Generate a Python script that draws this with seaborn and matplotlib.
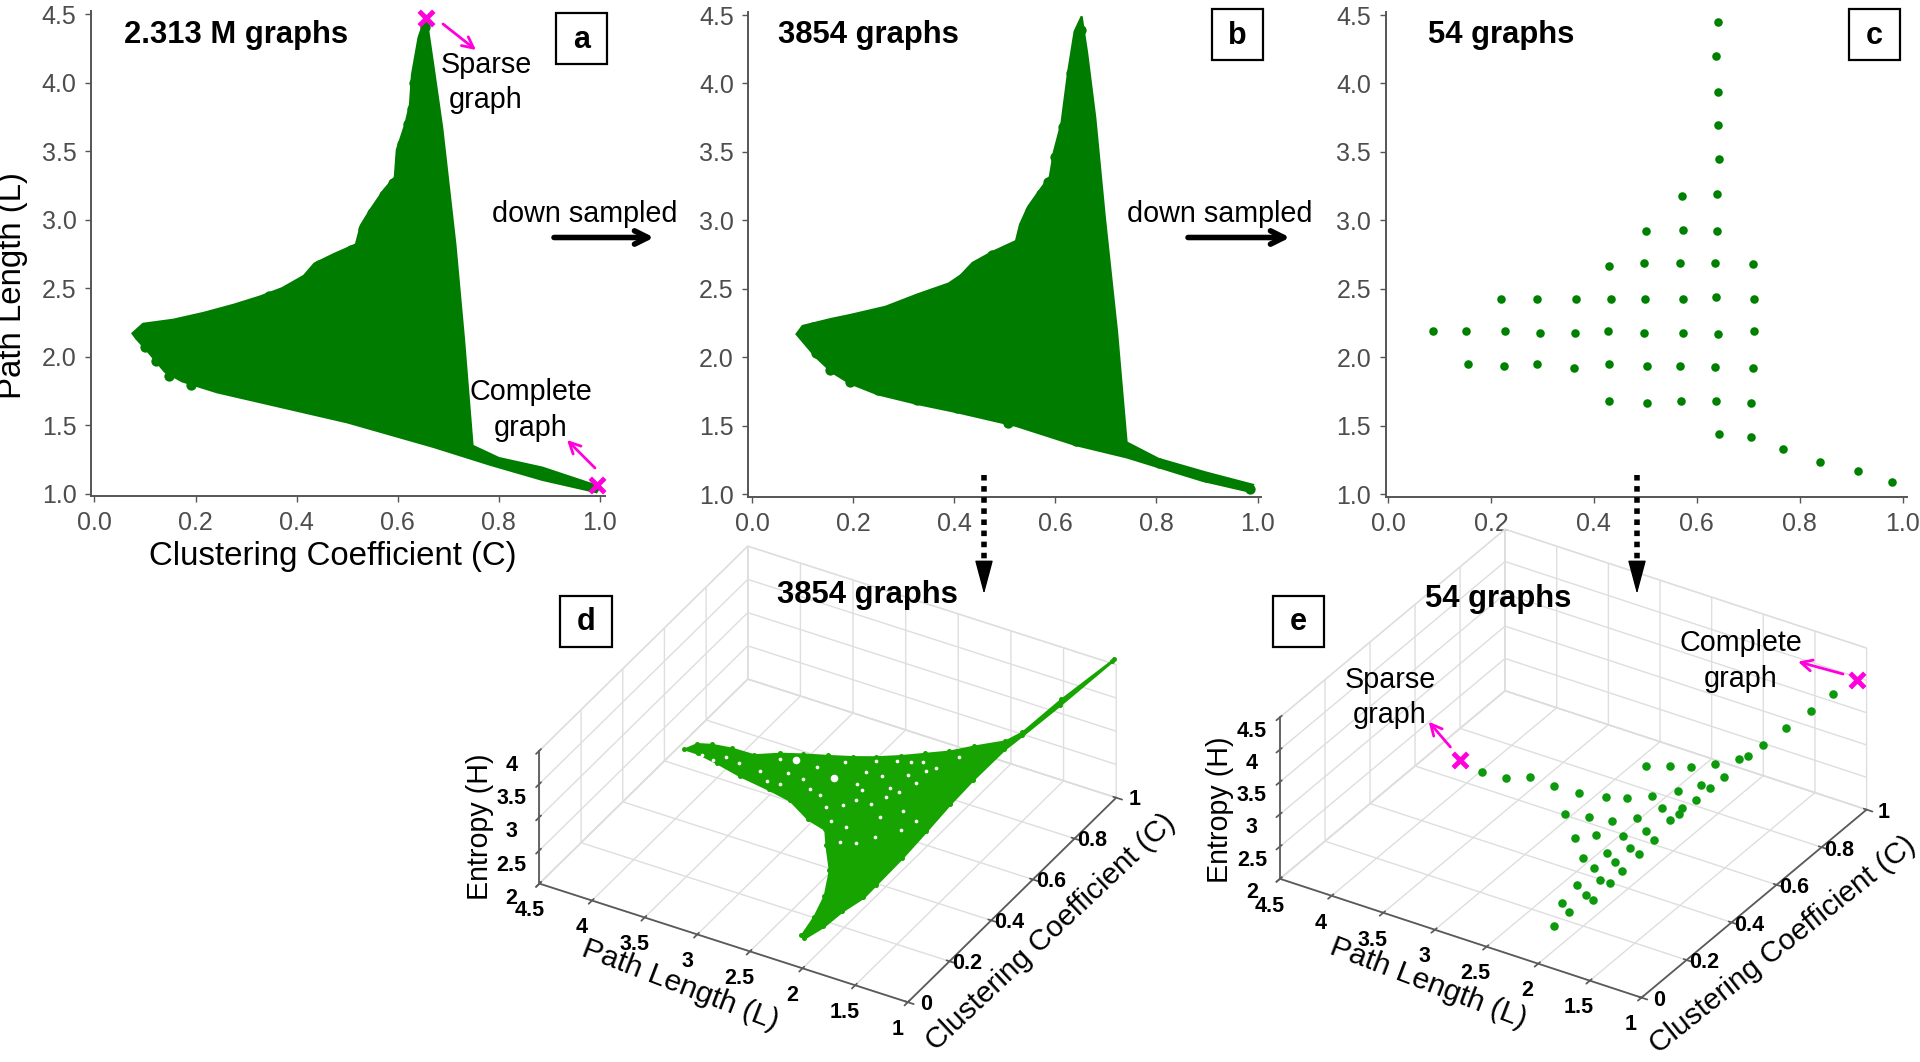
import matplotlib
matplotlib.use('Agg')
import matplotlib.pyplot as plt
import seaborn as sns
from matplotlib.patches import Rectangle
from mpl_toolkits.mplot3d import proj3d
from mpl_toolkits.mplot3d.art3d import Poly3DCollection

sns.set_theme(style='ticks')
plt.rcParams['font.family'] = ['Liberation Sans', 'DejaVu Sans']
plt.rcParams['text.color'] = 'black'

W, H = 1920, 1062
DARK_GREEN = '#007d00'
MAGENTA = '#ff00dc'

# outline of the filled cloud, panel a (C, L)
a_c = [.075, .096, .156, .216, .276, .328, .371, .414, .435, .474, .517, .527, .547, .573, .594, .598, .615, .624,
       .628, .641, .656, .671, .688, .714, .731, .748, .80, .886, 1.0, .993, .886, .783, .671, .50, .371, .242,
       .173, .139, .105, .083]
a_l = [2.17, 2.24, 2.27, 2.32, 2.38, 2.44, 2.50, 2.59, 2.68, 2.75, 2.82, 2.96, 3.08, 3.22, 3.31, 3.51, 3.70, 3.84,
       4.06, 4.33, 4.49, 4.11, 3.67, 2.82, 2.13, 1.35, 1.26, 1.19, 1.05, 1.01, 1.10, 1.21, 1.34, 1.52, 1.63, 1.74,
       1.82, 1.89, 2.04, 2.13]
# points that show as bumps along the edge, panel a
a_edge_c = [.088, .109, .173, .233, .294, .345, .379, .414, .444, .474, .508, .532, .549, .573, .590, .604, .609,
            .621, .628, .633, .645, .654, .100, .122, .148, .191]
a_edge_l = [2.16, 2.22, 2.24, 2.30, 2.35, 2.44, 2.48, 2.56, 2.67, 2.71, 2.78, 2.93, 3.05, 3.18, 3.27, 3.45, 3.55,
            3.70, 3.81, 4.00, 4.25, 4.41, 2.07, 1.97, 1.86, 1.79]

# outline, panel b
b_c = [.088, .10, .155, .194, .264, .327, .389, .413, .436, .475, .522, .53, .546, .569, .589, .597, .612, .625,
       .638, .652, .663, .679, .698, .722, .741, .804, .898, .991, .984, .89, .741, .64, .522, .405, .327, .249,
       .194, .159, .127]
b_l = [2.17, 2.23, 2.28, 2.31, 2.37, 2.46, 2.54, 2.60, 2.69, 2.77, 2.85, 2.97, 3.10, 3.22, 3.32, 3.50, 3.71, 4.08,
       4.38, 4.49, 4.22, 3.75, 3.02, 2.19, 1.38, 1.26, 1.16, 1.07, 1.02, 1.10, 1.27, 1.36, 1.50, 1.60, 1.66, 1.73,
       1.81, 1.89, 2.00]
b_edge_c = [.10, .12, .17, .20, .272, .335, .389, .417, .444, .475, .522, .538, .55, .571, .586, .60, .616, .628,
            .63, .643, .65, .127, .155, .194, .249, .327, .405, .507, .64, .741, .804, .898, .984]
b_edge_l = [2.17, 2.22, 2.26, 2.28, 2.34, 2.43, 2.51, 2.58, 2.67, 2.75, 2.81, 2.95, 3.07, 3.19, 3.28, 3.46, 3.68,
            3.88, 4.08, 4.27, 4.39, 2.03, 1.91, 1.82, 1.76, 1.69, 1.63, 1.52, 1.39, 1.31, 1.23, 1.13, 1.04]

# 54 graphs, panel c
c_c = [.641, .637, .641, .641, .643, .640, .639, .636, .637, .641, .636, .638, .643,
       .571, .573, .567, .574, .573, .567, .569,
       .501, .497, .499, .498, .504, .503,
       .430, .434, .428, .429, .430,
       .366, .363, .361,
       .289, .295, .289,
       .220, .227, .225,
       .152, .156,
       .087,
       .709, .711, .712, .710, .706, .706,
       .767, .839, .914, .979]
c_l = [4.45, 4.20, 3.94, 3.70, 3.45, 3.19, 2.92, 2.69, 2.44, 2.17, 1.93, 1.68, 1.44,
       3.18, 2.93, 2.69, 2.43, 2.18, 1.94, 1.68,
       2.92, 2.69, 2.43, 2.18, 1.94, 1.67,
       2.67, 2.43, 2.19, 1.95, 1.68,
       2.43, 2.18, 1.92,
       2.43, 2.18, 1.95,
       2.43, 2.19, 1.94,
       2.19, 1.95,
       2.19,
       2.68, 2.43, 2.19, 1.92, 1.67, 1.42,
       1.33, 1.24, 1.17, 1.09]

# outline of the 3D cloud, panel d
d_l = [4.45, 4.37, 4.23, 4.02, 3.77, 3.54, 3.32, 3.08, 2.85, 2.63, 2.41, 2.20, 1.99, 1.80, 1.54, 1.44, 1.29, 1.06,
       1.06, 1.26, 1.42, 1.49, 1.59, 1.65, 1.70, 1.75, 1.82, 1.86, 1.96, 2.04, 2.14, 2.19, 2.19, 2.23, 2.34, 2.53,
       2.64, 2.86, 3.15, 3.41, 3.76, 4.06, 4.30]
d_c = [.67, .69, .69, .68, .66, .67, .67, .67, .67, .67, .68, .69, .70, .72, .74, .77, .88, 1.02, 1.01, .86, .76,
       .71, .61, .53, .44, .35, .26, .22, .17, .12, .08, .09, .15, .22, .30, .38, .43, .46, .52, .55, .59, .63, .66]
d_h = [1.99, 2.05, 2.11, 2.19, 2.28, 2.39, 2.49, 2.59, 2.69, 2.80, 2.90, 3.01, 3.12, 3.23, 3.38, 3.47, 3.70, 4.00,
       3.99, 3.69, 3.46, 3.37, 3.17, 3.02, 2.86, 2.71, 2.55, 2.46, 2.36, 2.24, 2.14, 2.13, 2.22, 2.30, 2.38, 2.41,
       2.44, 2.39, 2.34, 2.28, 2.18, 2.10, 2.03]
# empty spots inside the cloud
gap_big_l = [3.35, 2.89]
gap_big_c = [.65, .60]
gap_big_h = [2.44, 2.57]
gap_l = [2.88, 2.61, 2.63, 2.54, 2.30, 2.38, 2.46, 2.42, 3.11, 3.35, 3.61, 3.85, 4.01, 4.12, 4.24, 2.77, 3.16, 3.50,
         2.28, 2.07, 2.23, 2.45, 2.19, 2.54, 2.64, 2.21, 1.85, 2.26, 2.00, 1.86, 3.34, 3.49, 2.90, 2.09, 2.62, 2.41,
         2.16, 3.04, 2.63, 2.28, 2.04, 2.12, 1.94]
gap_c = [.65, .66, .58, .56, .57, .52, .44, .39, .63, .61, .61, .63, .65, .64, .65, .50, .59, .65, .66, .63, .62,
         .61, .56, .53, .46, .48, .47, .39, .64, .68, .57, .58, .54, .59, .62, .66, .66, .56, .51, .54, .50, .41, .44]
gap_h = [2.65, 2.78, 2.66, 2.68, 2.80, 2.68, 2.54, 2.48, 2.52, 2.38, 2.27, 2.20, 2.15, 2.09, 2.06, 2.49, 2.44, 2.38,
         2.93, 2.99, 2.89, 2.79, 2.83, 2.63, 2.47, 2.70, 2.85, 2.55, 3.04, 3.16, 2.33, 2.28, 2.48, 2.92, 2.73, 2.88,
         2.99, 2.45, 2.56, 2.77, 2.81, 2.65, 2.76]

# 54 graphs in 3D, panel e
e_l = [3.94, 3.66, 3.45, 3.15, 2.87, 2.59, 2.38, 2.16, 1.95, 1.78, 1.67, 1.62, 1.79, 2.00, 2.21, 2.44, 2.85, 2.60,
       2.35, 2.13, 1.98, 1.78, 1.71, 1.77, 1.81, 2.58, 2.40, 2.14, 1.96, 1.82, 1.98, 1.85, 2.35, 2.16, 2.02, 1.89,
       2.18, 2.03, 1.92, 2.21, 2.06, 1.95, 2.23, 2.09, 2.13, 1.60, 1.54, 1.48, 1.39, 1.28, 1.19]
e_c = [.64, .62, .63, .60, .58, .57, .57, .58, .60, .62, .61, .65, .69, .68, .68, .68, .51, .50, .49, .50, .54, .54,
       .57, .52, .50, .43, .44, .44, .46, .43, .40, .38, .36, .38, .35, .32, .33, .29, .28, .27, .24, .22, .21, .18,
       .13, .71, .72, .76, .82, .88, .94]
e_h = [2.09, 2.19, 2.30, 2.40, 2.50, 2.61, 2.71, 2.83, 2.96, 3.07, 3.11, 3.20, 3.19, 3.07, 2.97, 2.85, 2.39, 2.50,
       2.60, 2.73, 2.85, 2.96, 3.03, 2.92, 2.87, 2.39, 2.50, 2.62, 2.74, 2.76, 2.63, 2.67, 2.40, 2.52, 2.54, 2.56,
       2.42, 2.44, 2.47, 2.32, 2.34, 2.37, 2.21, 2.23, 2.14, 3.31, 3.36, 3.45, 3.58, 3.73, 3.87]
e_x_l = [4.24, 1.07]
e_x_c = [.68, .99]
e_x_h = [2.00, 4.00]

c_ticks = [0, .2, .4, .6, .8, 1.0]
l_ticks = [1, 1.5, 2, 2.5, 3, 3.5, 4, 4.5]
c_ticks_3d = [0, .2, .4, .6, .8, 1]
l_ticks_3d = [4.5, 4, 3.5, 3, 2.5, 2, 1.5, 1]
c_labels_3d = ['0', '0.2', '0.4', '0.6', '0.8', '1']
l_labels_3d = ['4.5', '4', '3.5', '3', '2.5', '2', '1.5', '1']

fig = plt.figure(figsize=(W / 100, H / 100), dpi=100, facecolor='white')


def px_axes(left, right, top, bottom, **kw):
    return fig.add_axes([left / W, 1 - bottom / H, (right - left) / W, (bottom - top) / H], **kw)


def style_2d(ax, xlim, ylim):
    ax.set_xlim(*xlim)
    ax.set_ylim(*ylim)
    ax.set_xticks(c_ticks)
    ax.set_yticks(l_ticks)
    ax.set_xticklabels(['%.1f' % v for v in c_ticks])
    ax.set_yticklabels(['%.1f' % v for v in l_ticks])
    ax.tick_params(labelsize=18, labelcolor='#4d4d4d', color='#555555', length=4.5, width=1, pad=6)
    ax.set_xlabel('')
    ax.set_ylabel('')
    for s in ['left', 'bottom']:
        ax.spines[s].set_color('#555555')
        ax.spines[s].set_linewidth(1.4)
    sns.despine(ax=ax)
    ax.patch.set_visible(False)


# panel a
ax_a = px_axes(91, 605, 11, 496)
ax_a.fill(a_c, a_l, color=DARK_GREEN, lw=1.5)
sns.scatterplot(x=a_edge_c, y=a_edge_l, ax=ax_a, s=55, color=DARK_GREEN, linewidth=0)
sns.scatterplot(x=[.655, .995], y=[4.47, 1.06], ax=ax_a, s=110, color=MAGENTA, marker='x', linewidth=3.5, clip_on=False)
style_2d(ax_a, (-.0069, 1.0099), (.9825, 4.524))
ax_a.set_xlabel('Clustering Coefficient (C)', fontsize=23.8, color='black')
ax_a.set_ylabel('Path Length (L)', fontsize=23.8, color='black')
ax_a.xaxis.set_label_coords(.471, -.093)
ax_a.yaxis.set_label_coords(-.122, .433)

# panel b
ax_b = px_axes(748.4, 1261, 12, 497)
ax_b.fill(b_c, b_l, color=DARK_GREEN, lw=1.5)
sns.scatterplot(x=b_edge_c, y=b_edge_l, ax=ax_b, s=55, color=DARK_GREEN, linewidth=0)
style_2d(ax_b, (-.0071, 1.0067), (.981, 4.522))

# panel c
ax_c = px_axes(1385.7, 1906.5, 12, 497)
sns.scatterplot(x=c_c, y=c_l, ax=ax_c, s=38, color='#008000', linewidth=0)
style_2d(ax_c, (-.0045, 1.0076), (.981, 4.522))


def axes_3d(zlim, zticks, zlabels, elev, azim, aspect):
    ax = px_axes(600, 1300, 100, 800, projection='3d', proj_type='ortho')
    ax.set_facecolor('none')
    ax.patch.set_visible(False)
    ax.computed_zorder = False
    ax.view_init(elev=elev, azim=azim)
    ax.set_box_aspect(aspect)
    ax.set_xlim(4.5, 1, view_margin=0)
    ax.set_ylim(0, 1, view_margin=0)
    ax.set_zlim(*zlim, view_margin=0)
    ax.set_xticks(l_ticks_3d)
    ax.set_xticklabels(l_labels_3d)
    ax.set_yticks(c_ticks_3d)
    ax.set_yticklabels(c_labels_3d)
    ax.set_zticks(zticks)
    ax.set_zticklabels(zlabels)
    ax.zaxis.set_ticks_position('lower')
    for axis in [ax.xaxis, ax.yaxis, ax.zaxis]:
        axis.pane.set_facecolor((1, 1, 1, 0))
        axis.pane.set_edgecolor('#c4c4c4')
        axis.line.set_color('#5a5a5a')
        axis.line.set_linewidth(1.3)
        axis._axinfo['grid']['color'] = '#dedede'
        axis._axinfo['grid']['linewidth'] = 1
    for name in 'xyz':
        ax.tick_params(axis=name, labelsize=15.5, pad=3, labelcolor='black', color='#5a5a5a')
    for lab in ax.get_xticklabels() + ax.get_yticklabels() + ax.get_zticklabels():
        lab.set_fontweight('bold')
    for lab in ax.get_yticklabels():
        lab.set_va('bottom')
    return ax


def fit_3d(ax, p0, p1, t0, t1):
    # move and scale the 3D axes so two floor corners land on the wanted pixels
    def where(p):
        x, y, _ = proj3d.proj_transform(*p, ax.get_proj())
        return ax.transData.transform((x, y))
    fig.canvas.draw()
    d0, d1 = where(p0), where(p1)
    k = (t1[0] - t0[0]) / (d1[0] - d0[0])
    pos = ax.get_position(original=True)
    ax.set_position([pos.x0, pos.y0, pos.width * k, pos.height * k])
    fig.canvas.draw()
    d0 = where(p0)
    pos = ax.get_position(original=True)
    ax.set_position([pos.x0 + (t0[0] - d0[0]) / W, pos.y0 + ((H - t0[1]) - d0[1]) / H, pos.width, pos.height])


# panel d
ax_d = axes_3d((2, 4), [2, 2.5, 3, 3.5, 4], ['2', '2.5', '3', '3.5', '4'], 34.2, -60.2, (424.7, 419.4, 160.8))
verts = [list(zip(d_l, d_c, d_h))]
ax_d.add_collection3d(Poly3DCollection(verts, facecolor='#17a400', edgecolor='#17a400', linewidths=1.5, zorder=3))
ax_d.scatter(d_l, d_c, d_h, s=13, color='#17a400', linewidths=0, depthshade=False, zorder=4)
ax_d.scatter(gap_l, gap_c, gap_h, s=7, color='white', linewidths=0, depthshade=False, zorder=5)
ax_d.scatter(gap_big_l, gap_big_c, gap_big_h, s=30, color='white', linewidths=0, depthshade=False, zorder=5)
fit_3d(ax_d, (4.5, 0, 2), (1, 1, 2), (539.4, 883.6), (1116.2, 798))

# panel e
ax_e = axes_3d((2, 4.5), [2, 2.5, 3, 3.5, 4, 4.5], ['2', '2.5', '3', '3.5', '4', '4.5'], 31.6, -57.9,
               (426.6, 423.4, 189.6))
ax_e.scatter(e_l, e_c, e_h, s=38, color='#0c9a0c', linewidths=0, depthshade=False, zorder=4)
ax_e.scatter(e_x_l, e_x_c, e_x_h, s=110, color=MAGENTA, marker='x', linewidths=3.5, depthshade=False, zorder=5)
fit_3d(ax_e, (4.5, 0, 2), (1, 1, 2), (1280, 878.8), (1866.6, 810))

# text and arrows sit on a full-figure layer in pixels
top = fig.add_axes([0, 0, 1, 1])
top.set_xlim(0, W)
top.set_ylim(H, 0)
top.axis('off')
top.patch.set_visible(False)

for x, y, s in [(123.6, 35, '2.313 M graphs'), (778, 35, '3854 graphs'), (1428, 35, '54 graphs'),
                (777, 595, '3854 graphs'), (1425, 599, '54 graphs')]:
    top.text(x, y, s, fontsize=22.3, fontweight='bold', va='center', ha='left')

for x0, x1, y0, y1, s in [(556, 607, 13, 64, 'a'), (1212, 1263, 9, 60, 'b'), (1849, 1900, 9, 60, 'c'),
                          (560, 611.6, 596, 647, 'd'), (1273, 1323.5, 596, 647, 'e')]:
    top.add_patch(Rectangle((x0, y0), x1 - x0, y1 - y0, fill=False, ec='black', lw=1.6))
    top.text((x0 + x1) / 2, (y0 + y1) / 2 + 1, s, fontsize=22, fontweight='bold', ha='center', va='center')

for x, y, s in [(486, 65, 'Sparse'), (486, 100.5, 'graph'), (531, 392, 'Complete'), (531, 427.6, 'graph'),
                (1390, 679.6, 'Sparse'), (1390, 715, 'graph'), (1740.6, 643, 'Complete'), (1740.6, 678.6, 'graph')]:
    top.text(x, y, s, fontsize=20.7, ha='center', va='center')
for x, s in [(584.5, 'down sampled'), (1219.5, 'down sampled')]:
    top.text(x, 214, s, fontsize=20.7, ha='center', va='center')

for x0, x1 in [(554, 654), (1188, 1290)]:
    top.annotate('', xy=(x1, 237.5), xytext=(x0, 237.5),
                 arrowprops=dict(arrowstyle='->', lw=4, color='black', mutation_scale=24, shrinkA=0, shrinkB=0))
for x in [984, 1637]:
    top.plot([x, x], [475, 575], color='black', lw=4, linestyle=(0, (1, 1)))
    top.annotate('', xy=(x, 594), xytext=(x, 565),
                 arrowprops=dict(arrowstyle='-|>,head_width=0.24,head_length=0.9', lw=1, color='black',
                                 mutation_scale=24, shrinkA=0, shrinkB=0))
for x0, y0, x1, y1 in [(443, 24, 476, 50), (595, 468, 567, 440), (1450.4, 747, 1428.7, 721.7),
                       (1843, 674, 1798, 661.7)]:
    top.annotate('', xy=(x1, y1), xytext=(x0, y0),
                 arrowprops=dict(arrowstyle='->', lw=2, color=MAGENTA, mutation_scale=20, shrinkA=0, shrinkB=0))

for x, y, s, rot, fs in [(480, 827, 'Entropy (H)', 90, 20.6), (680, 985, 'Path Length (L)', -21, 21.7),
                         (1051, 932, 'Clustering Coefficient (C)', 43.3, 21.4),
                         (1220, 810, 'Entropy (H)', 90, 20.6), (1428, 983, 'Path Length (L)', -21, 21.7),
                         (1783, 944.5, 'Clustering Coefficient (C)', 38.5, 21.4)]:
    top.text(x, y, s, fontsize=fs, rotation=rot, rotation_mode='anchor', ha='center', va='center')

fig.savefig('out.png', dpi=100)
